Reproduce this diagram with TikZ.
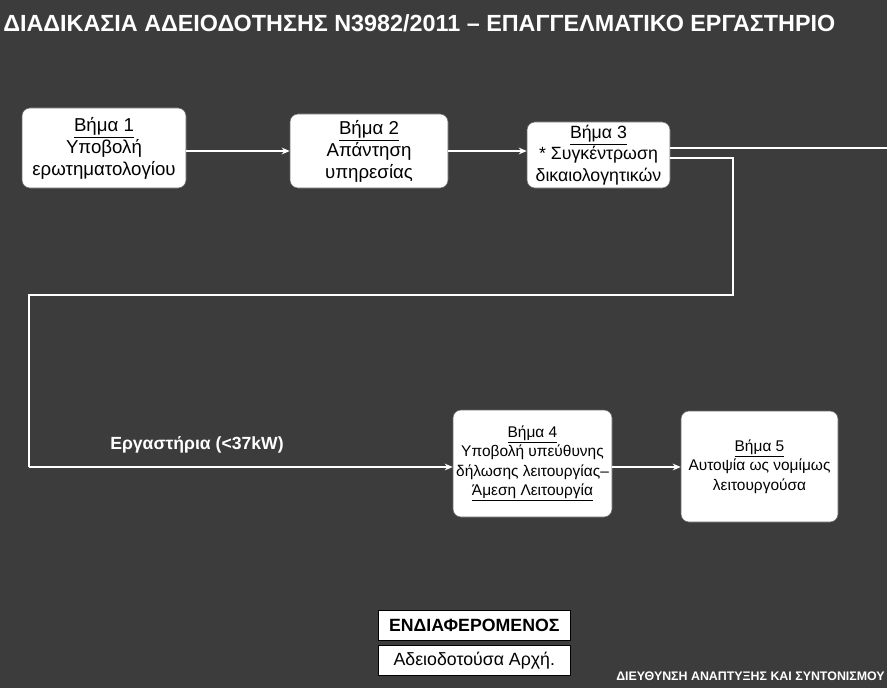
\documentclass[tikz,border=0pt]{standalone}
\usepackage{fontspec}
\setmainfont{Liberation Sans}
\usetikzlibrary{arrows.meta}
\definecolor{bgc}{RGB}{60,60,60}
\newcommand\pxu[1]{#1*0.75pt}
\begin{document}
\begin{tikzpicture}[x=0.75pt,y=-0.75pt,
  stepbox/.style={fill=white, draw=black!60, rounded corners=6pt, align=center, text=black, inner sep=0pt,
    font=\fontsize{14}{16.5}\selectfont},
  midbox/.style={stepbox, font=\fontsize{13.3}{16}\selectfont},
  smallbox/.style={stepbox, font=\fontsize{11.6}{14.6}\selectfont},
  legbox/.style={fill=white, draw=black, align=center, text=black, inner sep=0pt,
    minimum width=\pxu{192}, minimum height=\pxu{30}, font=\fontsize{13.3}{15}\selectfont},
  wline/.style={draw=white, line width=1.3pt},
  warrow/.style={wline, -{Stealth[length=6pt,width=5pt]}},
  wtext/.style={text=white, font=\bfseries\fontsize{13.2}{15}\selectfont, inner sep=0pt}]
\fill[bgc] (0,0) rectangle (887,688);
\useasboundingbox (0,0) rectangle (887,688);

% title
\node[anchor=west, text=white, inner sep=0pt] (title) at (3,23)
  {\resizebox{624pt}{!}{\bfseries\fontsize{16}{18}\selectfont ΔΙΑΔΙΚΑΣΙΑ ΑΔΕΙΟΔΟΤΗΣΗΣ Ν3982/2011 – ΕΠΑΓΓΕΛΜΑΤΙΚΟ ΕΡΓΑΣΤΗΡΙΟ}};

% steps
\node[stepbox, minimum width=\pxu{164}, minimum height=\pxu{80}] (b1) at (104,148)
  {\underline{Βήμα 1}\\Υποβολή\\ερωτηματολογίου};
\node[stepbox, minimum width=\pxu{158}, minimum height=\pxu{74}] (b2) at (369,151)
  {\underline{Βήμα 2}\\Απάντηση\\υπηρεσίας};
\node[midbox, minimum width=\pxu{143}, minimum height=\pxu{66}] (b3) at (598.5,155)
  {\underline{Βήμα 3}\\* Συγκέντρωση\\δικαιολογητικών};
\node[smallbox, minimum width=\pxu{159}, minimum height=\pxu{107}] (b4) at (532.5,463.5)
  {\underline{Βήμα 4}\\Υποβολή υπεύθυνης\\δήλωσης λειτουργίας–\\\underline{Άμεση Λειτουργία}};
\node[smallbox, minimum width=\pxu{157}, minimum height=\pxu{111}] (b5) at (759.5,466.5)
  {\underline{Βήμα 5}\\Αυτοψία ως νομίμως\\λειτουργούσα};

% connectors
\coordinate (r1) at (887,148);
\coordinate (c1) at (733,158);
\coordinate (c2) at (733,295);
\coordinate (c3) at (29,295);
\coordinate (c4) at (29,467);
\draw[warrow] (b1.east |- 0,151) -- (b2.west |- 0,151);
\draw[warrow] (b2.east |- 0,151) -- (b3.west |- 0,151);
\draw[wline] (b3.east |- r1) -- (r1);
\draw[wline] (b3.east |- c1) -- (c1) -- (c2) -- (c3) -- (c4);
\draw[warrow] (c4) -- (b4.west |- c4);
\draw[warrow] (b4.east |- c4) -- (b5.west |- c4);

\node[wtext, anchor=west] (lab) at (110,445) {Εργαστήρια (<37kW)};

% legend
\node[legbox, anchor=north west, font=\bfseries\fontsize{13.3}{15}\selectfont] (l1) at (378,610) {ΕΝΔΙΑΦΕΡΟΜΕΝΟΣ};
\node[legbox, anchor=north west] (l2) at (378,645) {Αδειοδοτούσα Αρχή.};

\node[text=white, anchor=east, inner sep=0pt, font=\bfseries\fontsize{9.3}{11}\selectfont] (foot) at (885,676)
  {ΔΙΕΥΘΥΝΣΗ ΑΝΑΠΤΥΞΗΣ ΚΑΙ ΣΥΝΤΟΝΙΣΜΟΥ};
\end{tikzpicture}
\end{document}
